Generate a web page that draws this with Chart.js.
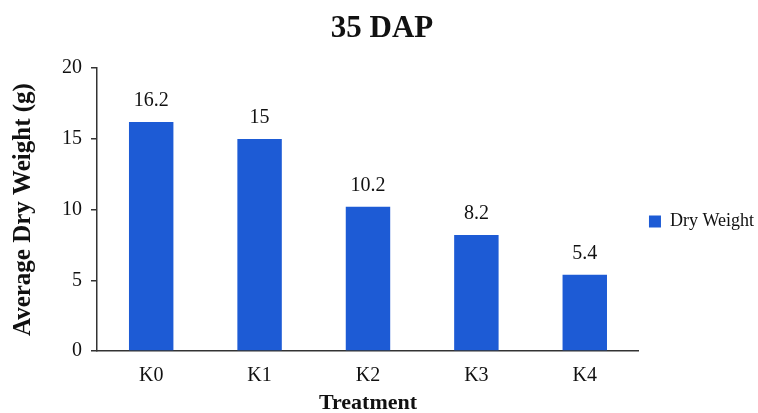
<!DOCTYPE html>
<html>
<head>
<meta charset="utf-8">
<script src="https://cdn.jsdelivr.net/npm/chart.js@4.4.0/dist/chart.umd.min.js"></script>
<style>
  body { margin: 0; background: #fff; }
  #wrap { width: 758px; height: 413px; }
</style>
</head>
<body>
<div id="wrap"><canvas id="graph"></canvas></div>
<script>
var treatments = ["K0", "K1", "K2", "K3", "K4"];
var dryWeight = [16.2, 15, 10.2, 8.2, 5.4];
var yTicks = [0, 5, 10, 15, 20];

var serif = "'Liberation Serif', 'Times New Roman', serif";

// values above each bar
var barValues = {
    id: "barValues",
    afterDatasetsDraw(chart) {
        var ctx = chart.ctx;
        var meta = chart.getDatasetMeta(0);
        ctx.save();
        ctx.font = "20px " + serif;
        ctx.fillStyle = "#111";
        ctx.textAlign = "center";
        ctx.textBaseline = "bottom";
        meta.data.forEach((bar, i) => {
            ctx.fillText(String(dryWeight[i]), bar.x, bar.y - 11);
        });
        ctx.restore();
    }
};

new Chart("graph", {
    type: "bar",
    data: {
        labels: treatments,
        datasets: [{
            label: "Dry Weight",
            data: dryWeight,
            backgroundColor: "#1d5bd5",
            borderWidth: 0,
            categoryPercentage: 1,
            barPercentage: 0.41
        }]
    },
    options: {
        responsive: true,
        maintainAspectRatio: false,
        animation: false,
        layout: { padding: { left: 0, right: -6, top: 0, bottom: 0 } },
        plugins: {
            title: {
                display: true,
                text: "35 DAP",
                color: "#111",
                font: { family: serif, size: 31, weight: "bold" },
                padding: { top: 10, bottom: 21 }
            },
            legend: {
                position: "right",
                title: { display: true, text: "", font: { size: 10 }, padding: 9 },
                labels: {
                    boxWidth: 12,
                    boxHeight: 12,
                    padding: 10,
                    color: "#111",
                    font: { family: serif, size: 18 }
                }
            },
            tooltip: { enabled: false }
        },
        scales: {
            x: {
                grid: { display: false },
                border: { color: "#333", width: 1.5 },
                ticks: { color: "#111", padding: 5, font: { family: serif, size: 20 } },
                title: {
                    display: true,
                    text: "Treatment",
                    color: "#111",
                    font: { family: serif, size: 22, weight: "bold" },
                    padding: { top: 4, bottom: -4 }
                },
                afterFit: (s) => { s.height = 62; }
            },
            y: {
                min: 0,
                max: 20,
                afterBuildTicks: (s) => { s.ticks = yTicks.map(v => ({ value: v })); },
                grid: { drawOnChartArea: false, tickLength: 6, color: "#333", lineWidth: 1.5 },
                border: { color: "#333", width: 1.5 },
                ticks: { color: "#111", padding: 9, font: { family: serif, size: 20 } },
                title: {
                    display: true,
                    text: "Average Dry Weight (g)",
                    color: "#111",
                    font: { family: serif, size: 25, weight: "bold" },
                    padding: { top: 9, bottom: 0 }
                },
                afterFit: (s) => { s.width = 97; }
            }
        }
    },
    plugins: [barValues]
});
</script>
</body>
</html>
